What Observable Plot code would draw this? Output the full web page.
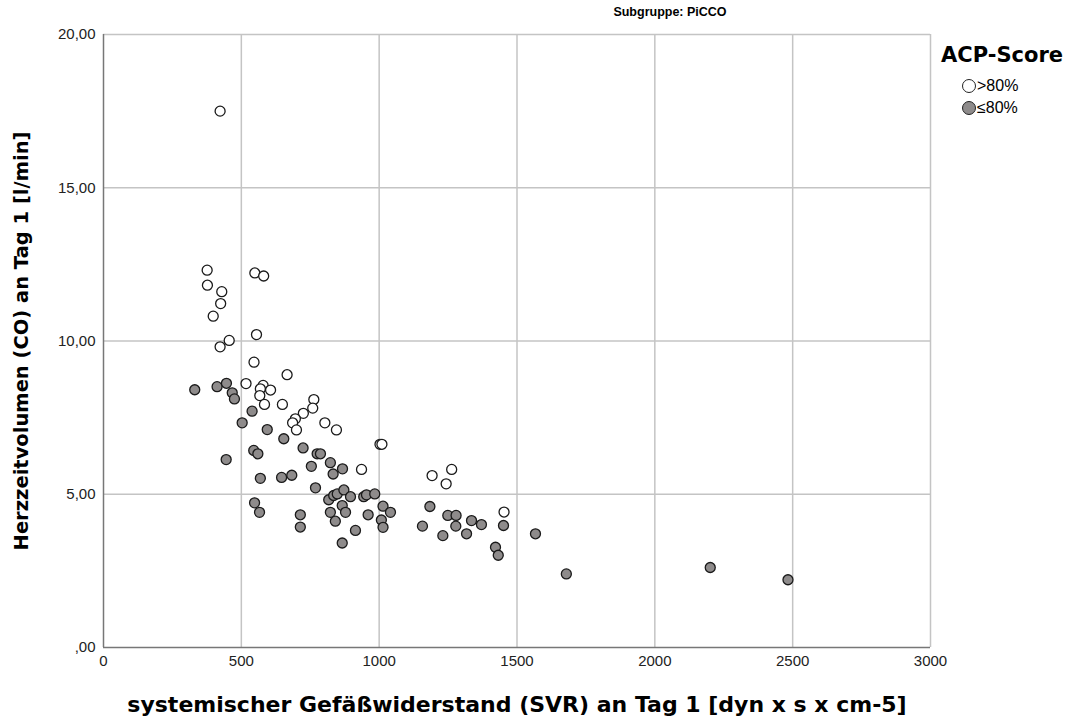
<!DOCTYPE html>
<html><head><meta charset="utf-8">
<script src="https://cdn.jsdelivr.net/npm/d3@7"></script>
<script src="https://cdn.jsdelivr.net/npm/@observablehq/plot@0.6"></script>
<style>
  html,body{margin:0;padding:0;background:#fff;}
  #wrap{position:relative;width:1072px;height:719px;font-family:"Liberation Sans",Arial,sans-serif;}
  #title{position:absolute;top:5px;left:560px;width:220px;text-align:center;font-weight:bold;font-size:12.5px;color:#000;}
  #legend{position:absolute;left:941px;top:43px;color:#000;}
  #legend .lt{font-family:"DejaVu Sans",sans-serif;font-weight:bold;font-size:21px;margin-bottom:8px;}
  #legend .it{display:flex;align-items:center;font-size:16px;height:22px;margin-left:21px;}
  #legend .sw{width:14px;height:14px;border-radius:50%;border:1.3px solid #222;box-sizing:border-box;margin-right:1px;}
  svg text{fill:#222;}
  svg [aria-label="y-axis label"] text{font-family:"DejaVu Sans",sans-serif;font-weight:bold;font-size:19.5px;fill:#000;}
  svg [aria-label="x-axis label"] text{font-family:"DejaVu Sans",sans-serif;font-weight:bold;font-size:22px;fill:#000;}
  svg [aria-label="y-axis tick label"] text, svg [aria-label="x-axis tick label"] text{font-size:15px;}
</style>
</head><body>
<div id="wrap">
  <div id="title">Subgruppe: PiCCO</div>
  <div id="legend"></div>
</div>
<script>
const groups = [">80%", "≤80%"];
const groupFill = ["#ffffff", "#8e8b8b"];
const xTicks = [0, 500, 1000, 1500, 2000, 2500, 3000];
const yTicks = [0, 5, 10, 15, 20];

const svrHigh = [423,376,549,581,377,429,425,398,555,456,423,546,666,517,579,606,569,567,584,649,763,759,725,696,686,700,803,845,1003,1010,936,1192,1263,1243,1453];
const coHigh  = [17.5,12.31,12.22,12.12,11.82,11.61,11.22,10.81,10.21,10.02,9.81,9.31,8.90,8.61,8.55,8.40,8.44,8.22,7.93,7.93,8.09,7.81,7.64,7.46,7.33,7.10,7.33,7.10,6.63,6.63,5.81,5.61,5.81,5.34,4.42];

const svrLow = [331,412,446,467,475,539,503,594,654,724,545,560,775,787,445,754,823,833,867,569,646,683,769,817,835,848,872,896,944,954,984,548,566,714,714,823,866,878,841,914,866,960,1014,1041,1008,1014,1184,1157,1249,1279,1278,1231,1317,1335,1371,1451,1422,1432,1567,1679,2201,2483];
const coLow  = [8.41,8.51,8.62,8.31,8.11,7.71,7.33,7.11,6.81,6.51,6.43,6.32,6.32,6.32,6.13,5.91,6.03,5.66,5.83,5.52,5.55,5.62,5.21,4.82,4.96,5.01,5.14,4.92,4.92,4.98,5.01,4.72,4.41,4.33,3.93,4.41,4.63,4.41,4.12,3.82,3.41,4.33,4.61,4.41,4.16,3.92,4.60,3.96,4.31,4.31,3.96,3.65,3.71,4.14,4.01,3.98,3.27,3.01,3.71,2.40,2.61,2.21];

const data = [
  ...svrHigh.map((x,i)=>({svr:x, co:coHigh[i], g:groups[0]})),
  ...svrLow.map((x,i)=>({svr:x, co:coLow[i], g:groups[1]}))
];

const fmtY = v => v === 0 ? ",00" : v.toFixed(2).replace(".", ",");

const chart = Plot.plot({
  width: 1072, height: 719,
  marginLeft: 103, marginRight: 142, marginTop: 34, marginBottom: 72,
  style: {fontFamily: '"Liberation Sans", Arial, sans-serif', background: "transparent"},
  x: {domain: [0, 3000]},
  y: {domain: [0, 20]},
  color: {domain: groups, range: groupFill},
  marks: [
    Plot.gridX(xTicks.filter(d => d > 0), {stroke: "#c4c4c4", strokeOpacity: 1, strokeWidth: 1.5}),
    Plot.gridY(yTicks.filter(d => d > 0), {stroke: "#c4c4c4", strokeOpacity: 1, strokeWidth: 1.5}),
    Plot.ruleX([0], {stroke: "#777", strokeWidth: 1.5}),
    Plot.ruleY([0], {stroke: "#777", strokeWidth: 1.5}),
    Plot.axisY(yTicks, {tickSize: 0, tickPadding: 8, tickFormat: fmtY,
      label: "Herzzeitvolumen (CO) an Tag 1 [l/min]", labelAnchor: "center", labelArrow: "none", labelOffset: 89}),
    Plot.axisX(xTicks, {tickSize: 0, tickPadding: 8, tickFormat: d => String(d),
      label: "systemischer Gefäßwiderstand (SVR) an Tag 1 [dyn x s x cm-5]", labelAnchor: "center", labelArrow: "none", labelOffset: 64}),
    Plot.dot(data, {x: "svr", y: "co", r: 5, fill: "g", stroke: "#1a1a1a", strokeWidth: 1.3})
  ]
});
document.getElementById("wrap").prepend(chart);

const lg = document.getElementById("legend");
const t = document.createElement("div"); t.className = "lt"; t.textContent = "ACP-Score"; lg.appendChild(t);
groups.forEach((g,i) => {
  const it = document.createElement("div"); it.className = "it";
  const sw = document.createElement("span"); sw.className = "sw"; sw.style.background = groupFill[i];
  const tx = document.createElement("span"); tx.textContent = g;
  it.appendChild(sw); it.appendChild(tx); lg.appendChild(it);
});
</script>
</body></html>
